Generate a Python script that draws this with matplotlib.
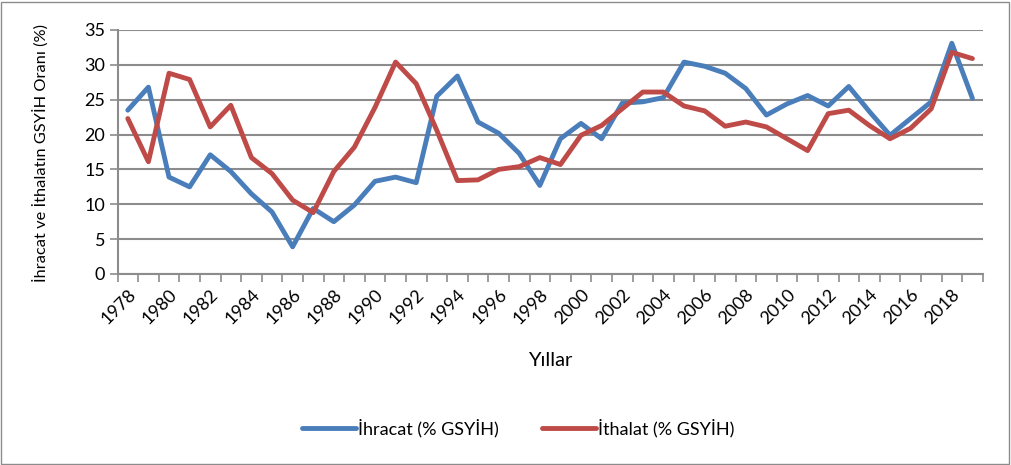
import matplotlib
matplotlib.use("Agg")
import matplotlib.pyplot as plt
from matplotlib.patches import Rectangle
import numpy as np

years = list(range(1978, 2020))
ihracat = [23.5, 26.8, 13.9, 12.5, 17.1, 14.7, 11.5, 8.9, 3.9, 9.4,
           7.5, 9.9, 13.3, 13.9, 13.1, 25.5, 28.4, 21.8, 20.2, 17.3,
           12.7, 19.4, 21.6, 19.4, 24.5, 24.7, 25.3, 30.4, 29.8, 28.8,
           26.6, 22.8, 24.4, 25.6, 24.1, 26.9, 23.3, 19.9, 22.3, 24.7,
           33.1, 25.2]
ithalat = [22.3, 16.1, 28.8, 27.9, 21.1, 24.2, 16.7, 14.4, 10.6, 8.8,
           14.7, 18.2, 23.9, 30.4, 27.3, 20.6, 13.4, 13.5, 15.0, 15.4,
           16.7, 15.7, 19.9, 21.3, 23.7, 26.1, 26.1, 24.1, 23.4, 21.2,
           21.8, 21.1, 19.4, 17.7, 23.0, 23.5, 21.3, 19.4, 20.9, 23.7,
           31.8, 30.9]
yticks = [0, 5, 10, 15, 20, 25, 30, 35]

blue = "#4A7EBB"
red = "#BE4B48"
grid_c = "#8C8C8C"
font = ["Lato", "DejaVu Sans"]
plt.rcParams['font.family'] = font

fig = plt.figure(figsize=(10.11, 4.65), dpi=100)
ax = fig.add_axes([117.5 / 1011, 1 - 274 / 465, (982.7 - 117.5) / 1011, (274 - 30) / 465])

x = np.arange(len(years))
ax.plot(x, ihracat, color=blue, lw=3.5, label="İhracat (% GSYİH)",
        solid_joinstyle="round", solid_capstyle="round")
ax.plot(x, ithalat, color=red, lw=3.5, label="İthalat (% GSYİH)",
        solid_joinstyle="round", solid_capstyle="round")

ax.set_xlim(-0.5, len(years) - 0.5)
ax.set_ylim(0, 35)
ax.set_yticks(yticks)
ax.set_yticklabels([str(v) for v in yticks], fontsize=13)
ax.yaxis.grid(True, color=grid_c, lw=1.5)
ax.set_axisbelow(True)

# category boundary ticks
ax.set_xticks(np.arange(-0.5, len(years) + 0.5, 1.0))
ax.set_xticklabels([])
ax.set_xticks(x[::2], minor=True)
ax.set_xticklabels([str(y) for y in years[::2]], minor=True, rotation=45,
                   ha="right", va="top", rotation_mode="anchor", fontsize=13)
ax.tick_params(axis="x", which="major", length=6, color=grid_c, width=1.2, direction="out")
ax.tick_params(axis="x", which="minor", length=0, pad=9)
ax.tick_params(axis="y", length=6, color=grid_c, width=1.2, direction="out", pad=3)

for s in ["top", "right"]:
    ax.spines[s].set_visible(False)
for s in ["left", "bottom"]:
    ax.spines[s].set_color(grid_c)
    ax.spines[s].set_linewidth(1.5)

fig.text(41 / 1011, 1 - 153 / 465, "İhracat ve İthalatın GSYİH Oranı (%)", fontsize=11.8,
         rotation=90, ha="center", va="center")
fig.text(550 / 1011, 1 - 360 / 465, "Yıllar", fontsize=14.5, ha="center", va="center")

fig.legend(loc="center", bbox_to_anchor=(518 / 1011, 1 - 428 / 465), ncol=2,
           frameon=False, fontsize=13, handlelength=3.0, columnspacing=2.4,
           handletextpad=0.1)

fig.patches.append(Rectangle((1 / 1011, 1 / 465), 1 - 3 / 1011, 1 - 3 / 465,
                             transform=fig.transFigure, fill=False,
                             edgecolor="#8C8C8C", lw=1.0))

fig.savefig("out.png", dpi=100)
